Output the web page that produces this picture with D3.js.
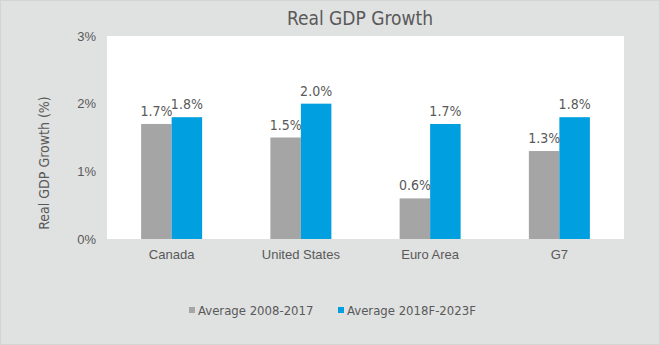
<!DOCTYPE html>
<html>
<head>
<meta charset="utf-8">
<script src="https://cdn.jsdelivr.net/npm/d3@7"></script>
<style>
  html, body { margin: 0; padding: 0; background: #e0e1e1; }
  svg { display: block; font-family: "Liberation Sans Narrow", "DejaVu Sans Condensed", sans-serif; }
</style>
</head>
<body>
<svg width="660" height="345"></svg>
<script>
// chart data
var regions = ["Canada", "United States", "Euro Area", "G7"];
var seriesNames = ["Average 2008-2017", "Average 2018F-2023F"];
var avg0817 = [1.7, 1.5, 0.6, 1.3];
var avg1823 = [1.8, 2.0, 1.7, 1.8];
var yTicks = [0, 1, 2, 3];

var colors = ["#a5a5a5", "#009fdf"],
  textColor = "#595959";

var svg = d3.select("svg"),
  margin = { top: 36, right: 36, bottom: 106, left: 107 },
  width = +svg.attr("width") - margin.left - margin.right,
  height = +svg.attr("height") - margin.top - margin.bottom;

svg.append("rect")
  .attr("x", 0.5).attr("y", 0.5)
  .attr("width", 659).attr("height", 344)
  .attr("fill", "#e0e1e1")
  .attr("stroke", "#d3d5d5");

var g = svg.append("g")
  .attr("transform", "translate(" + margin.left + "," + margin.top + ")");

var rows = regions.map(function(r, i) {
  return { region: r, values: [avg0817[i], avg1823[i]] };
});

var x0 = d3.scaleBand().domain(regions).range([0, width])
  .paddingInner(0.528).paddingOuter(0.264);
var x1 = d3.scaleBand().domain([0, 1]).range([0, x0.bandwidth()]);
var y = d3.scaleLinear().domain([0, 3]).range([height, 0]);

g.append("rect")
  .attr("width", width).attr("height", height)
  .attr("fill", "#ffffff");

// y axis labels
var yAxis = g.append("g")
  .call(d3.axisLeft(y).tickValues(yTicks).tickSize(0).tickPadding(11)
    .tickFormat(function(d) { return d + "%"; }));
yAxis.select(".domain").remove();
yAxis.selectAll("text")
  .attr("fill", textColor)
  .style("font-size", "13px");

// x axis labels
var xAxis = g.append("g")
  .attr("transform", "translate(0," + height + ")")
  .call(d3.axisBottom(x0).tickSize(0).tickPadding(11));
xAxis.select(".domain").remove();
xAxis.selectAll("text")
  .attr("fill", textColor)
  .style("font-size", "13px");

var group = g.selectAll(".group")
  .data(rows)
  .enter().append("g")
  .attr("class", "group")
  .attr("transform", function(d) { return "translate(" + x0(d.region) + ",0)"; });

group.selectAll("rect")
  .data(function(d) { return d.values; })
  .enter().append("rect")
  .attr("x", function(d, i) { return x1(i); })
  .attr("y", function(d) { return y(d); })
  .attr("width", x1.bandwidth())
  .attr("height", function(d) { return height - y(d); })
  .attr("fill", function(d, i) { return colors[i]; });

group.selectAll(".lbl")
  .data(function(d) { return d.values; })
  .enter().append("text")
  .attr("class", "lbl")
  .attr("x", function(d, i) { return x1(i) + x1.bandwidth() / 2; })
  .attr("y", function(d) { return y(d) - 8; })
  .attr("text-anchor", "middle")
  .attr("fill", textColor)
  .style("font-size", "14px")
  .text(function(d) { return d.toFixed(1) + "%"; });

// title
svg.append("text")
  .attr("x", 360).attr("y", 25)
  .attr("text-anchor", "middle")
  .attr("fill", textColor)
  .style("font-size", "19px")
  .text("Real GDP Growth");

// y axis title
svg.append("text")
  .attr("transform", "translate(49,163) rotate(-90)")
  .attr("text-anchor", "middle")
  .attr("fill", textColor)
  .style("font-size", "14px")
  .text("Real GDP Growth (%)");

// legend
var legendX = [189, 338];
var legend = svg.selectAll(".legend")
  .data(seriesNames)
  .enter().append("g")
  .attr("class", "legend")
  .attr("transform", function(d, i) { return "translate(" + legendX[i] + ",307)"; });
legend.append("rect")
  .attr("width", 6).attr("height", 6)
  .attr("fill", function(d, i) { return colors[i]; });
legend.append("text")
  .attr("x", 9).attr("y", 3)
  .attr("dy", "0.35em")
  .attr("fill", textColor)
  .style("font-size", "13px")
  .text(function(d) { return d; });
</script>
</body>
</html>
